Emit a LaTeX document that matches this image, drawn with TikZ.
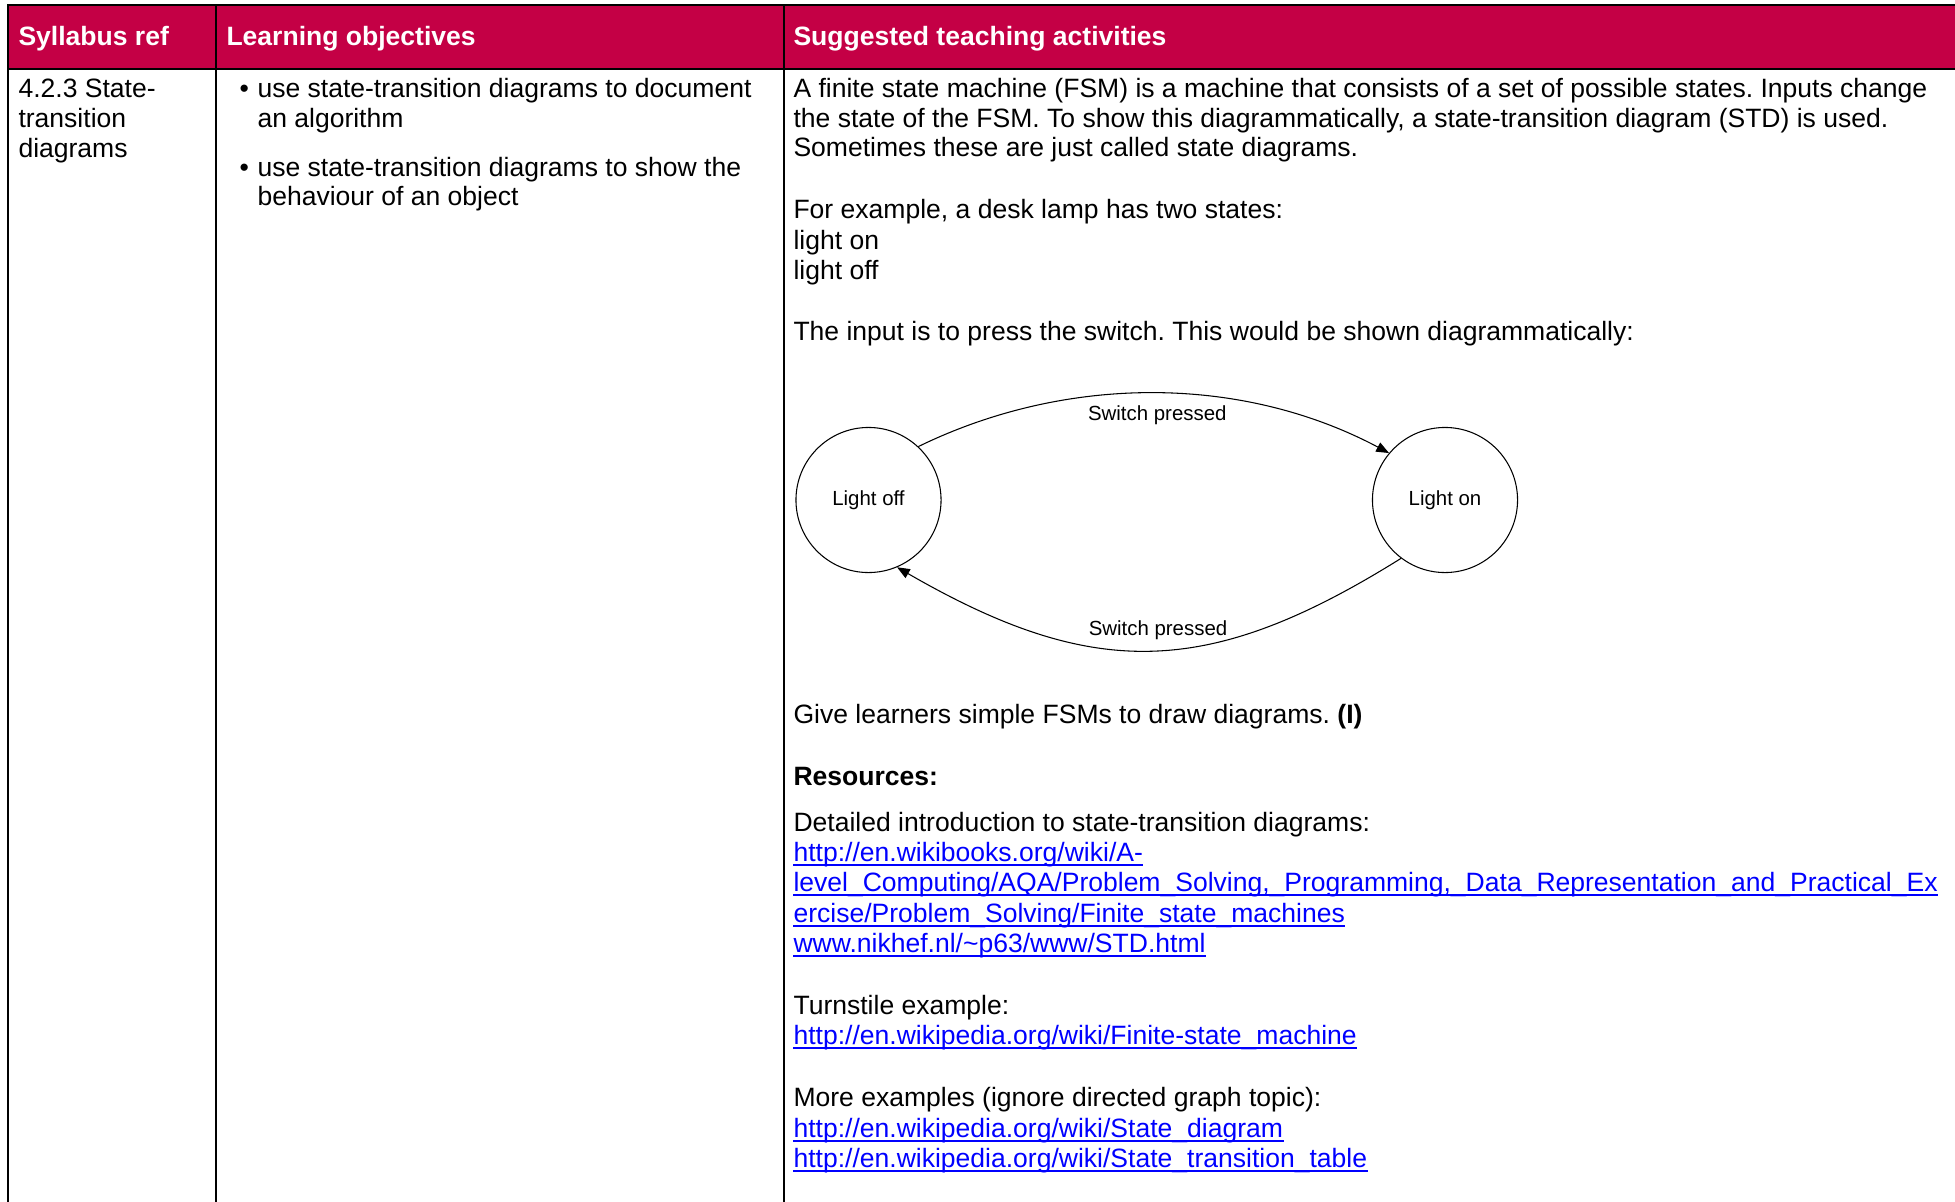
\documentclass[tikz,border=0pt]{standalone}
\usepackage{fontspec}
\setmainfont{Liberation Sans}
\usepackage{tikz}
\usetikzlibrary{arrows.meta}

\definecolor{hdrred}{RGB}{196,0,69}
\definecolor{linkblue}{RGB}{0,0,255}
\frenchspacing

\begin{document}
\begin{tikzpicture}[x=0.377pt, y=-0.377pt,
    txt/.style={anchor=base west, inner sep=0pt, font=\fontsize{10}{12}\selectfont},
    hdr/.style={txt, text=white, font=\fontsize{10}{12}\selectfont\bfseries},
    web/.style={txt, text=linkblue},
    webline/.style={draw=linkblue, line width=0.6pt},
    cellrule/.style={line width=0.6pt},
    lamp/.style={draw, circle, line width=0.4pt, minimum size=54.7pt, inner sep=0pt, font=\fontsize{7.7}{9}\selectfont},
    lbl/.style={inner sep=0pt, font=\fontsize{7.7}{9}\selectfont},
    arr/.style={line width=0.4pt, -{Triangle[length=4.8pt, width=3.8pt]}}]
    \useasboundingbox (0,0) rectangle (1955,1202);
    \fill[white] (0,0) rectangle (1955,1202);

    % Table
    \fill[hdrred] (8,5) rectangle (1955,69);
    \draw[cellrule] (1955,5) -- (8,5) -- (8,1202);
    \draw[cellrule] (8,69) -- (1955,69);
    \draw[cellrule] (216,5) -- (216,1202);
    \draw[cellrule] (784,5) -- (784,1202);

    % Headings
    \node[hdr] (h1) at (18,45) {Syllabus ref};
    \node[hdr] (h2) at (226,45) {Learning objectives};
    \node[hdr] (h3) at (793,45) {Suggested teaching activities};

    % Syllabus ref
    \node[txt] (ref1) at (18,97) {4.2.3 State-};
    \node[txt] (ref2) at (18,127) {transition};
    \node[txt] (ref3) at (18,157) {diagrams};

    % Learning objectives
    \node[txt] (b1) at (239,97) {\textbullet};
    \node[txt] (obj1a) at (257,97) {use state-transition diagrams to document};
    \node[txt] (obj1b) at (257,127) {an algorithm};
    \node[txt] (b2) at (239,176) {\textbullet};
    \node[txt] (obj2a) at (257,176) {use state-transition diagrams to show the};
    \node[txt] (obj2b) at (257,205) {behaviour of an object};

    % Teaching activities
    \node[txt] (a1) at (793,97) {A finite state machine (FSM) is a machine that consists of a set of possible states. Inputs change};
    \node[txt] (a2) at (793,127) {the state of the FSM. To show this diagrammatically, a state-transition diagram (STD) is used.};
    \node[txt] (a3) at (793,156) {Sometimes these are just called state diagrams.};
    \node[txt] (a4) at (793,218) {For example, a desk lamp has two states:};
    \node[txt] (a5) at (793,249) {light on};
    \node[txt] (a6) at (793,279) {light off};
    \node[txt] (a7) at (793,340) {The input is to press the switch. This would be shown diagrammatically:};

    % State-transition diagram
    \node[lamp] (off) at (868.5,500) {Light off};
    \node[lamp] (on) at (1445,500) {Light on};
    \draw[arr] (off.47) to[out=26, in=152, looseness=0.9]
        node[lbl, midway, xshift=1pt, yshift=-8.3pt] (sw1) {Switch pressed} (on.140);
    \draw[arr] (on.233) to[out=212, in=-30, looseness=1.15]
        node[lbl, midway, xshift=2.8pt, yshift=7.5pt] (sw2) {Switch pressed} (off.-67);

    \node[txt] (a8) at (793,723) {Give learners simple FSMs to draw diagrams. \textbf{(I)}};
    \node[txt] (a9) at (793,785) {\textbf{Resources:}};

    % Resources
    \node[txt] (r1) at (793,831) {Detailed introduction to state-transition diagrams:};
    \node[web] (r2) at (793,861) {http://en.wikibooks.org/wiki/A-};
    \node[web] (r3) at (793,891) {level\_Computing/AQA/Problem\_Solving,\_Programming,\_Data\_Representation\_and\_Practical\_Ex};
    \node[web] (r4) at (793,922) {ercise/Problem\_Solving/Finite\_state\_machines};
    \node[web] (r5) at (793,952) {www.nikhef.nl/\textasciitilde p63/www/STD.html};
    \node[txt] (r6) at (793,1014) {Turnstile example:};
    \node[web] (r7) at (793,1044) {http://en.wikipedia.org/wiki/Finite-state\_machine};
    \node[txt] (r8) at (793,1106) {More examples (ignore directed graph topic):};
    \node[web] (r9) at (793,1137) {http://en.wikipedia.org/wiki/State\_diagram};
    \node[web] (r10) at (793,1167) {http://en.wikipedia.org/wiki/State\_transition\_table};

    % Link underlines
    \foreach \n in {r2,r3,r4,r5,r7,r9,r10}
        \draw[webline] ([yshift=-1.6pt]\n.base west) -- ([yshift=-1.6pt]\n.base east);
\end{tikzpicture}
\end{document}
